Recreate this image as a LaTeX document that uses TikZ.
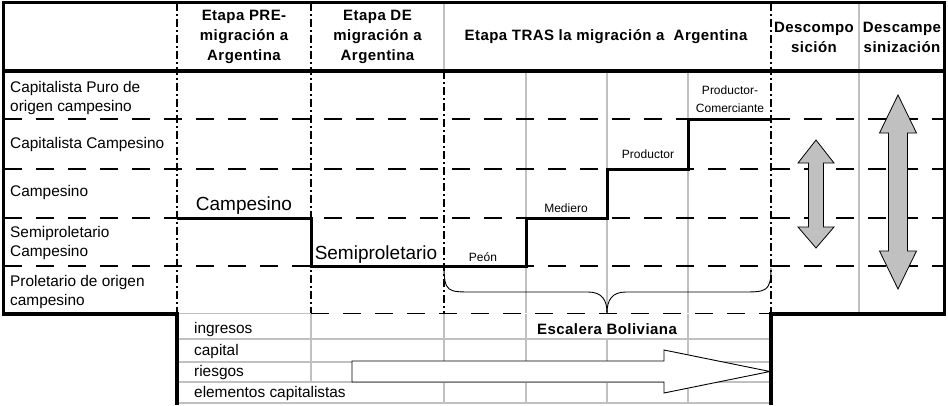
\documentclass[tikz,border=0pt]{standalone}
\usepackage{fontspec}
\setmainfont{Liberation Sans}
\newfontfamily\hfont{Liberation Sans}[LetterSpace=3]
\definecolor{gridgray}{HTML}{C0C0C0}
\definecolor{arrowgray}{HTML}{C0C0C0}
\begin{document}
\begin{tikzpicture}[x=1pt,y=-1pt,
  rowdash/.style={line width=1.8pt, dash pattern=on 18pt off 14pt},
  coldash/.style={line width=1.5pt, dash pattern=on 8pt off 3pt on 2pt off 3pt},
  gridline/.style={draw=gridgray, line width=1.5pt},
  border/.style={line width=3.5pt},
  stair/.style={line width=3pt},
  dblarrow/.style={fill=arrowgray, draw=black, line width=0.8pt, line join=miter},
  bigarrow/.style={fill=white, draw=black, line width=0.9pt, line join=miter},
  lbl/.style={font=\fontsize{15.4}{19.5}\selectfont, anchor=west, align=left, inner sep=0pt},
  hdr/.style={font=\hfont\bfseries\fontsize{15}{20}\selectfont, align=center, inner sep=0pt},
  big/.style={font=\fontsize{19}{22}\selectfont, inner sep=0pt},
  small/.style={font=\fontsize{12}{18}\selectfont, inner sep=0pt, align=center},
  brace/.style={line width=0.9pt}
]
\useasboundingbox (0,0) rectangle (948,405);
\fill[white] (0,0) rectangle (948,405);

% gray grid lines
\draw[gridline] (444,3) -- (444,71);
\draw[gridline] (526,71) -- (526,313);
\draw[gridline] (607,71) -- (607,313);
\draw[gridline] (688,71) -- (688,313);
\draw[gridline] (859,3) -- (859,313);
\draw[gridline] (177,313.5) -- (311,313.5);
% bottom table grid
\foreach \yy in {339,362,382,403} \draw[gridline] (177,\yy) -- (770,\yy);
\draw[gridline] (311,314) -- (311,382);
\draw[gridline] (444,314) -- (444,403);
\draw[gridline] (526,314) -- (526,403);
\draw[gridline] (607,339) -- (607,403);
\draw[gridline] (688,314) -- (688,403);

% dashed row lines
\foreach \yy in {119,169,218,266} \draw[rowdash] (4,\yy) -- (944,\yy);
\draw[rowdash] (311,313.5) -- (771,313.5);

% dash-dot column lines
\draw[coldash] (177,3) -- (177,313);
\draw[coldash] (311,3) -- (311,313);
\draw[coldash] (444,71) -- (444,313);
\draw[coldash] (771,3) -- (771,313);

% staircase
\draw[stair] (177,218) -- (311,218) -- (311,266) -- (526,266) -- (526,218)
  -- (607,218) -- (607,169) -- (688,169) -- (688,119) -- (771,119);

% brace
\draw[brace] (444,266) .. controls (444,292) and (448,292) .. (472,292)
  -- (588,292) .. controls (602,292) and (607,300) .. (607,313);
\draw[brace] (771,268) .. controls (771,292) and (766,292) .. (742,292)
  -- (626,292) .. controls (612,292) and (607,300) .. (607,313);

% borders
\draw[border] (2,2.5) -- (946,2.5);
\draw[border] (3.5,2) -- (3.5,315.5);
\draw[border] (944.5,2) -- (944.5,315.5);
\draw[line width=4pt] (3,71) -- (945,71);
\draw[border] (2,314) -- (177,314) -- (177,405);
\draw[border] (946,314) -- (771,314) -- (771,405);

% header texts
\node[hdr] (h1) at (244,37) {Etapa PRE-\\migración a\\Argentina};
\node[hdr] (h2) at (377.5,37) {Etapa DE\\migración a\\Argentina};
\node[hdr] (h3) at (606,37) {Etapa TRAS la migración a\ \ Argentina};
\node[hdr] (h4) at (814,37) {Descompo\\sición};
\node[hdr] (h5) at (902,37) {Descampe\\sinización};

% left column texts
\node[lbl] (r1) at (10,98) {Capitalista Puro de\\origen campesino};
\node[lbl] (r2) at (10,145) {Capitalista Campesino};
\node[lbl] (r3) at (10,193) {Campesino};
\node[lbl] (r4) at (10,243) {Semiproletario\\Campesino};
\node[lbl] (r5) at (10,292) {Proletario de origen\\campesino};

% stair labels
\node[big] (lc) at (244,206) {Campesino};
\node[big] (ls) at (376,255) {Semiproletario};
\node[small] (lp) at (483,257) {Peón};
\node[small] (lm) at (566,208) {Mediero};
\node[small] (lpr) at (648,154) {Productor};
\node[small] (lpc) at (730,99) {Productor-\\Comerciante};

% double arrows
\draw[dblarrow] (816,140) -- (834,163) -- (823.5,163) -- (823.5,227) -- (834,227)
  -- (816,248) -- (798,227) -- (808.5,227) -- (808.5,163) -- (798,163) -- cycle;
\draw[dblarrow] (898,95) -- (916.5,133) -- (907.5,133) -- (907.5,251) -- (916.5,251)
  -- (898,289) -- (879.5,251) -- (888.5,251) -- (888.5,133) -- (879.5,133) -- cycle;

% bottom table texts
\node[lbl] (b1) at (194,330) {ingresos};
\node[lbl] (b2) at (194,352) {capital};
\node[lbl] (b3) at (194,373) {riesgos};
\node[lbl] (b4) at (194,394) {elementos capitalistas};
\node[hdr] (esc) at (607,329) {Escalera Boliviana};

% big arrow
\draw[bigarrow] (352,361) -- (664,361) -- (664,350) -- (770,371.5) -- (664,393)
  -- (664,382) -- (352,382) -- cycle;
\end{tikzpicture}
\end{document}
